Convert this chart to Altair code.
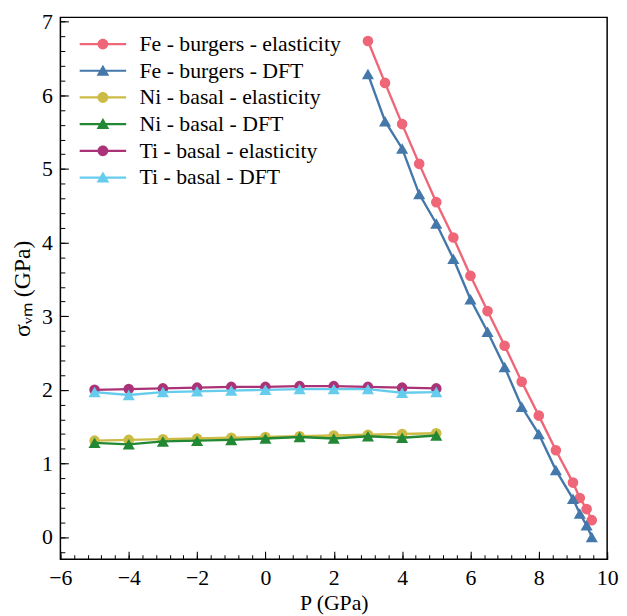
import altair as alt
import pandas as pd

series_names = [
    "Fe - burgers - elasticity",
    "Fe - burgers - DFT",
    "Ni - basal - elasticity",
    "Ni - basal - DFT",
    "Ti - basal - elasticity",
    "Ti - basal - DFT",
]
series_colors = ["#EE6677", "#4477AA", "#CCBB44", "#228833", "#AA3377", "#66CCEE"]
series_shapes = ["circle", "triangle-up", "circle", "triangle-up", "circle", "triangle-up"]
series_sizes = [115, 150, 115, 150, 115, 150]

p_fe = [3.0, 3.5, 4.0, 4.5, 5.0, 5.5, 6.0, 6.5, 7.0, 7.5, 8.0, 8.5, 9.0, 9.2, 9.4, 9.55]
fe_elasticity = [6.74, 6.17, 5.61, 5.07, 4.55, 4.07, 3.55, 3.07, 2.60, 2.11, 1.65, 1.18, 0.74, 0.53, 0.38, 0.23]
fe_dft = [6.29, 5.65, 5.28, 4.66, 4.26, 3.78, 3.23, 2.79, 2.31, 1.77, 1.40, 0.91, 0.52, 0.32, 0.16, 0.00]

p_basal = [-5, -4, -3, -2, -1, 0, 1, 2, 3, 4, 5]
ni_elasticity = [1.31, 1.32, 1.33, 1.34, 1.35, 1.36, 1.37, 1.38, 1.39, 1.40, 1.41]
ni_dft = [1.28, 1.26, 1.30, 1.31, 1.32, 1.34, 1.36, 1.34, 1.37, 1.35, 1.38]
ti_elasticity = [2.00, 2.01, 2.02, 2.03, 2.04, 2.04, 2.05, 2.05, 2.04, 2.03, 2.02]
ti_dft = [1.97, 1.93, 1.97, 1.98, 1.99, 2.00, 2.01, 2.01, 2.01, 1.96, 1.97]

x_major = [-6, -4, -2, 0, 2, 4, 6, 8, 10]
y_major = [0, 1, 2, 3, 4, 5, 6, 7]
x_minor = [round(-6 + 0.4 * i, 2) for i in range(41)]
y_minor = [round(-0.2 + 0.2 * i, 2) for i in range(37)]

FONT = "Liberation Serif"
FS = 22

# legend glyphs: a filled line segment on each side plus a filled marker
LINE_L = "M-2.35,-0.11H-0.3V0.11H-2.35Z"
LINE_R = "M0.3,-0.11H2.35V0.11H0.3Z"
CIRCLE = "M0.55,0A0.55,0.55,0,1,1,-0.55,0A0.55,0.55,0,1,1,0.55,0Z"
TRIANGLE = "M0,-0.62L0.64,0.5L-0.64,0.5Z"
legend_paths = [
    LINE_L + LINE_R + CIRCLE,
    LINE_L + LINE_R + TRIANGLE,
    LINE_L + LINE_R + CIRCLE,
    LINE_L + LINE_R + TRIANGLE,
    LINE_L + LINE_R + CIRCLE,
    LINE_L + LINE_R + TRIANGLE,
]

rows = []
for name, xs, ys in [
    (series_names[0], p_fe, fe_elasticity),
    (series_names[1], p_fe, fe_dft),
    (series_names[2], p_basal, ni_elasticity),
    (series_names[3], p_basal, ni_dft),
    (series_names[4], p_basal, ti_elasticity),
    (series_names[5], p_basal, ti_dft),
]:
    for k, (xv, yv) in enumerate(zip(xs, ys)):
        rows.append({"series": name, "P": xv, "sigma": yv, "idx": k})
df = pd.DataFrame(rows)

x_scale = alt.Scale(domain=[-6, 10], nice=False, zero=False)
y_scale = alt.Scale(domain=[-0.3, 7.06], nice=False, zero=False)
color_scale = alt.Scale(domain=series_names, range=series_colors)
shape_scale = alt.Scale(domain=series_names, range=series_shapes)

x_axis = alt.Axis(
    values=x_major, orient="bottom", tickSize={"expr": "-8"}, tickColor="black", tickWidth=1.1,
    domain=False, grid=False, labelFont=FONT, labelFontSize=FS, labelColor="black",
    labelPadding=17, labelFlush=False, labelOverlap=False,
    titleFont=FONT, titleFontSize=FS, titleColor="black", titleFontWeight="normal", titlePadding=4,
)
y_axis = alt.Axis(
    values=y_major, orient="left", tickSize={"expr": "-8"}, tickColor="black", tickWidth=1.1,
    domain=False, grid=False, labelFont=FONT, labelFontSize=FS, labelColor="black",
    labelPadding=16, labelFlush=False, labelOverlap=False,
    titleFont=FONT, titleFontSize=FS + 2, titleColor="black", titleFontWeight="normal", titlePadding=7,
)

base = alt.Chart(df)

X = alt.X("P:Q", scale=x_scale, axis=x_axis, title="P (GPa)")
Y = alt.Y("sigma:Q", scale=y_scale, axis=y_axis, title="σᵥₘ (GPa)")

layers = []
for i, name in enumerate(series_names):
    sub = base.transform_filter(alt.datum.series == name)
    layers.append(
        sub.mark_line(strokeWidth=2.4).encode(
            x=X, y=Y,
            color=alt.Color("series:N", scale=color_scale, legend=None),
            order="idx:Q",
        )
    )
    layers.append(
        sub.mark_point(filled=True, opacity=1, size=series_sizes[i]).encode(
            x=X, y=Y,
            color=alt.Color("series:N", scale=color_scale, legend=None),
            shape=alt.Shape("series:N", scale=shape_scale, legend=None),
        )
    )

leg = alt.Legend(
    title=None, orient="none", legendX=32, legendY=16, symbolSize=400,
    symbolStrokeWidth=0, labelFont=FONT, labelFontSize=FS, labelColor="black",
    labelOffset=26, rowPadding=5, padding=0, labelLimit=400, symbolOpacity=1,
)
legend_layer = base.transform_filter("false").mark_point(filled=True, opacity=1, strokeWidth=0).encode(
    x=X, y=Y,
    color=alt.Color("series:N", scale=alt.Scale(domain=series_names, range=series_colors), legend=leg),
    shape=alt.Shape("series:N", scale=alt.Scale(domain=series_names, range=legend_paths), legend=leg),
)
layers.append(legend_layer)

inner = alt.layer(*layers).resolve_scale(shape="independent", color="independent")

minor_layer = base.transform_filter("false").mark_point().encode(
    x=alt.X("P:Q", scale=x_scale, axis=alt.Axis(
        values=x_minor, orient="bottom", tickSize={"expr": "-4.5"}, tickColor="black", tickWidth=1.0,
        labels=False, domain=False, grid=False, title=None)),
    y=alt.Y("sigma:Q", scale=y_scale, axis=alt.Axis(
        values=y_minor, orient="left", tickSize={"expr": "-4.5"}, tickColor="black", tickWidth=1.0,
        labels=False, domain=False, grid=False, title=None)),
)

chart = (
    alt.layer(inner, minor_layer)
    .resolve_scale(x="independent", y="independent")
    .properties(
        width=553, height=548,
        padding={"left": 53, "top": 6, "right": 12, "bottom": 54},
        autosize=alt.AutoSizeParams(type="none"),
        background="white",
    )
    .configure_view(stroke="black", strokeWidth=1.5, fill="white")
)

chart.save("out.html", embed_options={"renderer": "svg", "actions": False})
